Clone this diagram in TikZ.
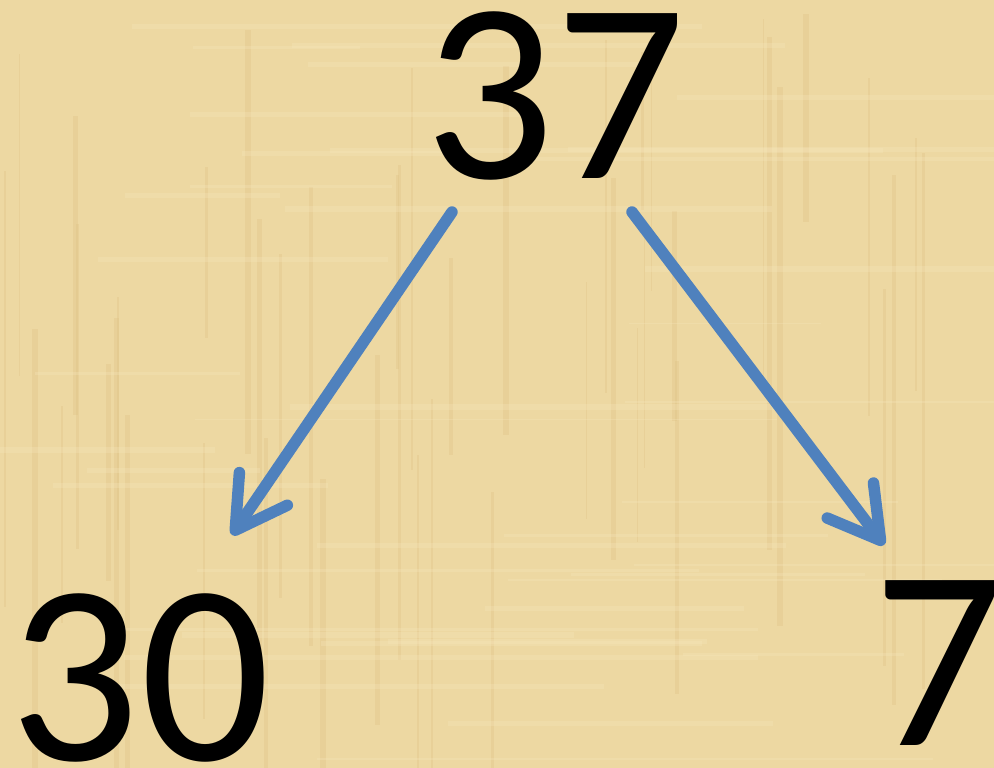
\documentclass[tikz,border=0pt]{standalone}
\usepackage{fontspec}
\setmainfont{Carlito}
\usetikzlibrary{arrows.meta}
\definecolor{papyrus}{RGB}{237,216,162}
\definecolor{papyrusdark}{RGB}{222,192,132}
\definecolor{papyruslight}{RGB}{246,230,186}
\definecolor{arrowblue}{RGB}{79,129,189}
\tikzset{
  bignum/.style={inner sep=0pt, anchor=base, font=\fontsize{257}{257}\selectfont, text=black},
  link/.style={draw=arrowblue, line width=11.5pt, line cap=round,
    -{Straight Barb[length=50pt, width=58pt, round]}},
  fibre/.style={opacity=0.3}
}
\begin{document}
\begin{tikzpicture}[x=1pt,y=-1pt]
  \useasboundingbox (0,0) rectangle (994,768);
  \begin{scope}
    \clip (0,0) rectangle (994,768);
    \fill[papyrus] (0,0) rectangle (994,768);
    \pgfmathsetseed{7}
    \foreach \i in {1,...,45}{
      \pgfmathsetmacro{\xx}{rnd*994}
      \pgfmathsetmacro{\ww}{1+rnd*5}
      \pgfmathsetmacro{\ya}{rnd*500}
      \pgfmathsetmacro{\ll}{150+rnd*400}
      \fill[papyrusdark, fibre] (\xx,\ya) rectangle ++(\ww,\ll);
    }
    \foreach \i in {1,...,40}{
      \pgfmathsetmacro{\yy}{rnd*768}
      \pgfmathsetmacro{\hh}{1+rnd*5}
      \pgfmathsetmacro{\xa}{rnd*700}
      \pgfmathsetmacro{\ll}{150+rnd*500}
      \fill[papyruslight, fibre] (\xa,\yy) rectangle ++(\ll,\hh);
    }
  \end{scope}
  \node[bignum] (top) at (555,178) {37};
  \node[bignum] (left) at (140,760) {30};
  \node[bignum] (right) at (939,745) {7};
  \coordinate (ls) at (452,212);
  \coordinate (lt) at (232,535);
  \coordinate (rs) at (632,212);
  \coordinate (rt) at (884,545);
  \draw[link] (ls) -- (lt);
  \draw[link] (rs) -- (rt);
\end{tikzpicture}
\end{document}
